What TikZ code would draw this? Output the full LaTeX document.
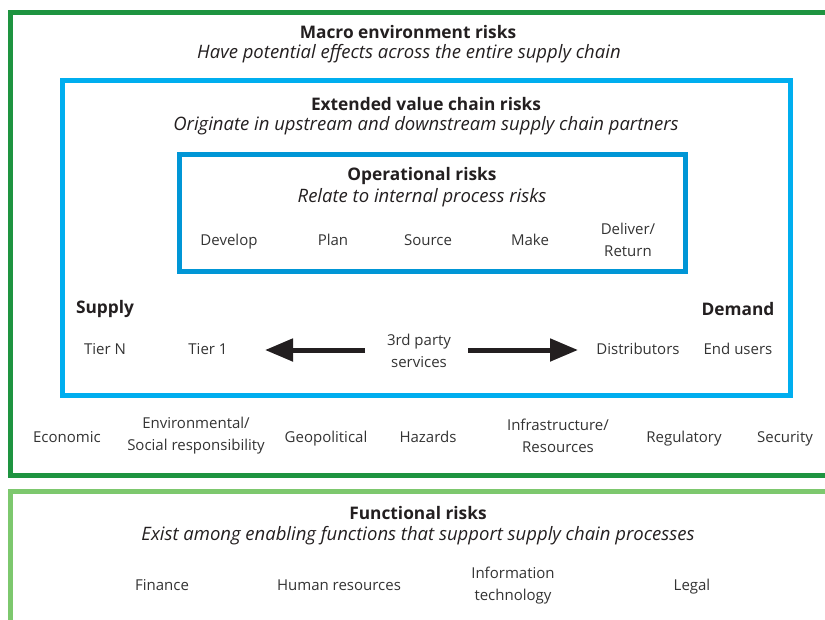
\documentclass[tikz,border=0pt]{standalone}
\usepackage{fontspec}
\setmainfont{Open Sans}
\usetikzlibrary{arrows.meta}
\definecolor{dkgreen}{HTML}{1E9440}
\definecolor{ltgreen}{HTML}{7DC86E}
\definecolor{ltblue}{HTML}{00AEEF}
\definecolor{opblue}{HTML}{0096D6}
\definecolor{txt}{HTML}{333333}
\definecolor{ttl}{HTML}{231F20}
\tikzset{
  frame/.style={line width=5pt},
  lbl/.style={inner sep=0pt, text=txt, align=center, font=\fontsize{15}{22}\selectfont},
  ttlb/.style={inner sep=0pt, text=ttl, align=center, font=\fontsize{17.3}{22}\selectfont\bfseries},
  ttli/.style={inner sep=0pt, text=ttl, align=center, font=\fontsize{18.5}{22}\selectfont\itshape},
  bigarrow/.style={line width=5pt, -{Triangle[length=28pt,width=22pt]}, draw=ttl}
}
\begin{document}
\begin{tikzpicture}[x=1pt,y=-1pt]
\useasboundingbox (0,0) rectangle (825,619);
\begin{scope}
\clip (0,0) rectangle (825,619);
% outer green frame
\draw[frame, dkgreen] (840,12.5) -- (10.5,12.5) -- (10.5,475.5) -- (840,475.5);
% functional frame
\draw[frame, ltgreen] (840,491.5) -- (10.5,491.5) -- (10.5,640);
\end{scope}
% extended box
\draw[frame, ltblue] (62.5,80.5) rectangle (790.5,395.5);
% operational box
\draw[frame, opblue] (179.5,154.5) rectangle (685.5,271.5);

% titles
\node[ttlb] (macro) at (408,32) {Macro environment risks};
\node[ttli] (macrosub) at (409,54) {Have potential effects across the entire supply chain};
\node[ttlb] (ext) at (426,104) {Extended value chain risks};
\node[ttli] (extsub) at (426,126) {Originate in upstream and downstream supply chain partners};
\node[ttlb] (op) at (422,176) {Operational risks};
\node[ttli] (opsub) at (422,198) {Relate to internal process risks};

% operational processes
\node[lbl, anchor=base] (develop) at (229,245) {Develop};
\node[lbl, anchor=base] (plan) at (333,245) {Plan};
\node[lbl, anchor=base] (source) at (428,245) {Source};
\node[lbl, anchor=base] (make) at (530,245) {Make};
\node[lbl] (deliver) at (628,240) {Deliver/\\Return};

% supply / demand
\node[ttlb] (supply) at (105,309) {Supply};
\node[ttlb] (demand) at (738,309) {Demand};
\node[lbl, anchor=base] (tiern) at (105,354) {Tier N};
\node[lbl, anchor=base] (tier1) at (208,354) {Tier 1};
\node[lbl] (third) at (419,351) {3rd party\\services};
\node[lbl, anchor=base] (distr) at (638,354) {Distributors};
\node[lbl, anchor=base] (endu) at (738,354) {End users};

\coordinate (lstart) at (365,350);
\coordinate (ltip) at (265,350);
\coordinate (rstart) at (468,350);
\coordinate (rtip) at (578,350);
\draw[bigarrow] (lstart) -- (ltip);
\draw[bigarrow] (rstart) -- (rtip);

% macro categories
\node[lbl, anchor=base] (econ) at (67,442) {Economic};
\node[lbl] (env) at (196,436) {Environmental/\\Social responsibility};
\node[lbl, anchor=base] (geo) at (326,442) {Geopolitical};
\node[lbl, anchor=base] (haz) at (428,442) {Hazards};
\node[lbl] (infra) at (558,436) {Infrastructure/\\Resources};
\node[lbl, anchor=base] (reg) at (684,442) {Regulatory};
\node[lbl, anchor=base] (sec) at (785,442) {Security};

% functional
\node[ttlb] (func) at (418,513) {Functional risks};
\node[ttli] (funcsub) at (418,536) {Exist among enabling functions that support supply chain processes};
\node[lbl, anchor=base] (fin) at (162,590) {Finance};
\node[lbl, anchor=base] (hr) at (339,590) {Human resources};
\node[lbl] (it) at (513,586) {Information\\technology};
\node[lbl, anchor=base] (legal) at (692,590) {Legal};
\end{tikzpicture}
\end{document}
